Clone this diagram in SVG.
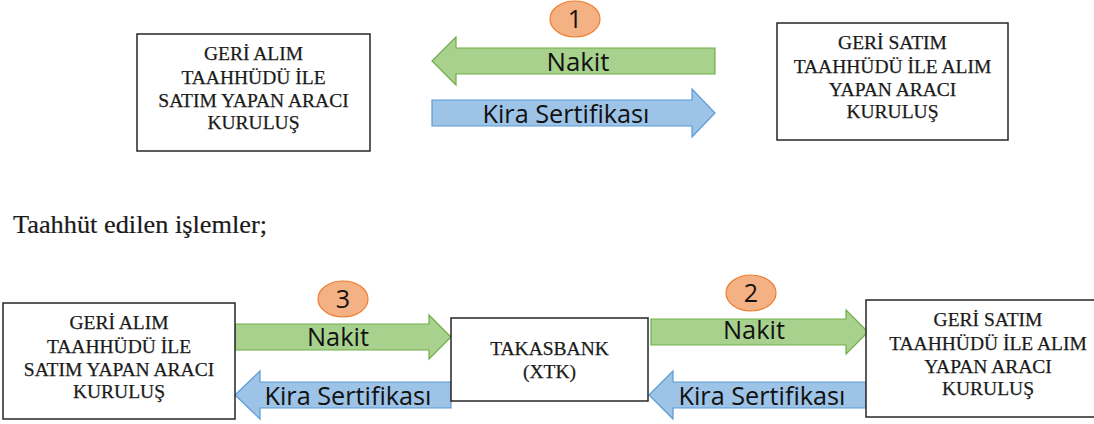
<svg xmlns="http://www.w3.org/2000/svg" width="1094" height="424" viewBox="0 0 1094 424">
<style>
.box{fill:#fff;stroke:#262626;stroke-width:1.5}
.bt{font-family:"Liberation Serif","DejaVu Serif",serif;font-size:19.5px;fill:#1a1a1a;stroke:#1a1a1a;stroke-width:0.25;text-anchor:middle}
.green{fill:#a9d18e;stroke:#70ad47;stroke-width:1.2}
.blue{fill:#9dc3e6;stroke:#5b9bd5;stroke-width:1.2}
.lbl{font-family:"Open Sans","Liberation Sans",sans-serif;font-size:26px;fill:#111;text-anchor:middle}
.num{fill:#f4b183;stroke:#ed7d31;stroke-width:1.2}
.nt{font-family:"Open Sans","Liberation Sans",sans-serif;font-size:25px;fill:#111;text-anchor:middle}
</style>
<rect width="1094" height="424" fill="#fff"/>
<g id="connectors">
  <polygon class="green" points="432,61 456,37 456,48 715,48 715,74 456,74 456,85"/>
  <polygon class="blue" points="432,100 692,100 692,89 715,113 692,137 692,126 432,126"/>
  <polygon class="green" points="235,324 429,324 429,315 451,337 429,359 429,350 235,350"/>
  <polygon class="blue" points="235,395 260,371 260,382 451,382 451,408 260,408 260,419"/>
  <polygon class="green" points="651,319 846,319 846,310 868,332 846,354 846,345 651,345"/>
  <polygon class="blue" points="649,395 673,371 673,382 866,382 866,408 673,408 673,419"/>
  <text class="lbl" x="578" y="71" textLength="63" lengthAdjust="spacingAndGlyphs">Nakit</text>
  <text class="lbl" x="566" y="123" textLength="167" lengthAdjust="spacingAndGlyphs">Kira Sertifikası</text>
  <text class="lbl" x="338" y="346" textLength="62" lengthAdjust="spacingAndGlyphs">Nakit</text>
  <text class="lbl" x="348" y="405" textLength="167" lengthAdjust="spacingAndGlyphs">Kira Sertifikası</text>
  <text class="lbl" x="754" y="339" textLength="62" lengthAdjust="spacingAndGlyphs">Nakit</text>
  <text class="lbl" x="762" y="405" textLength="167" lengthAdjust="spacingAndGlyphs">Kira Sertifikası</text>
</g>
<g id="step1">
  <ellipse class="num" cx="575" cy="19" rx="25" ry="18"/>
  <text class="nt" x="575" y="28">1</text>
</g>
<g id="step2">
  <ellipse class="num" cx="751" cy="293" rx="25" ry="18"/>
  <text class="nt" x="751" y="302">2</text>
</g>
<g id="step3">
  <ellipse class="num" cx="343" cy="299" rx="25" ry="18"/>
  <text class="nt" x="343" y="308">3</text>
</g>
<g id="top-left">
  <rect class="box" x="137" y="34" width="233" height="117"/>
  <text class="bt" x="253.5" y="60">GERİ ALIM</text>
  <text class="bt" x="253.5" y="84">TAAHHÜDÜ İLE</text>
  <text class="bt" x="253.5" y="107">SATIM YAPAN ARACI</text>
  <text class="bt" x="253.5" y="129">KURULUŞ</text>
</g>
<g id="top-right">
  <rect class="box" x="777" y="23" width="231" height="117"/>
  <text class="bt" x="892.5" y="49">GERİ SATIM</text>
  <text class="bt" x="892.5" y="73">TAAHHÜDÜ İLE ALIM</text>
  <text class="bt" x="892.5" y="96">YAPAN ARACI</text>
  <text class="bt" x="892.5" y="118">KURULUŞ</text>
</g>
<text x="13" y="233" font-family="Liberation Serif, DejaVu Serif, serif" font-size="25" fill="#1a1a1a" stroke="#1a1a1a" stroke-width="0.2" textLength="254" lengthAdjust="spacingAndGlyphs">Taahhüt edilen işlemler;</text>
<g id="bottom-left">
  <rect class="box" x="3" y="303" width="232" height="116"/>
  <text class="bt" x="119" y="328.5">GERİ ALIM</text>
  <text class="bt" x="119" y="352.5">TAAHHÜDÜ İLE</text>
  <text class="bt" x="119" y="375.5">SATIM YAPAN ARACI</text>
  <text class="bt" x="119" y="397.5">KURULUŞ</text>
</g>
<g id="takasbank">
  <rect class="box" x="451" y="318" width="197" height="83"/>
  <text class="bt" x="549.5" y="355">TAKASBANK</text>
  <text class="bt" x="549.5" y="378">(XTK)</text>
</g>
<g id="bottom-right">
  <rect class="box" x="866" y="300" width="244" height="117"/>
  <text class="bt" x="988" y="326">GERİ SATIM</text>
  <text class="bt" x="988" y="350">TAAHHÜDÜ İLE ALIM</text>
  <text class="bt" x="988" y="373">YAPAN ARACI</text>
  <text class="bt" x="988" y="395">KURULUŞ</text>
</g>
</svg>
